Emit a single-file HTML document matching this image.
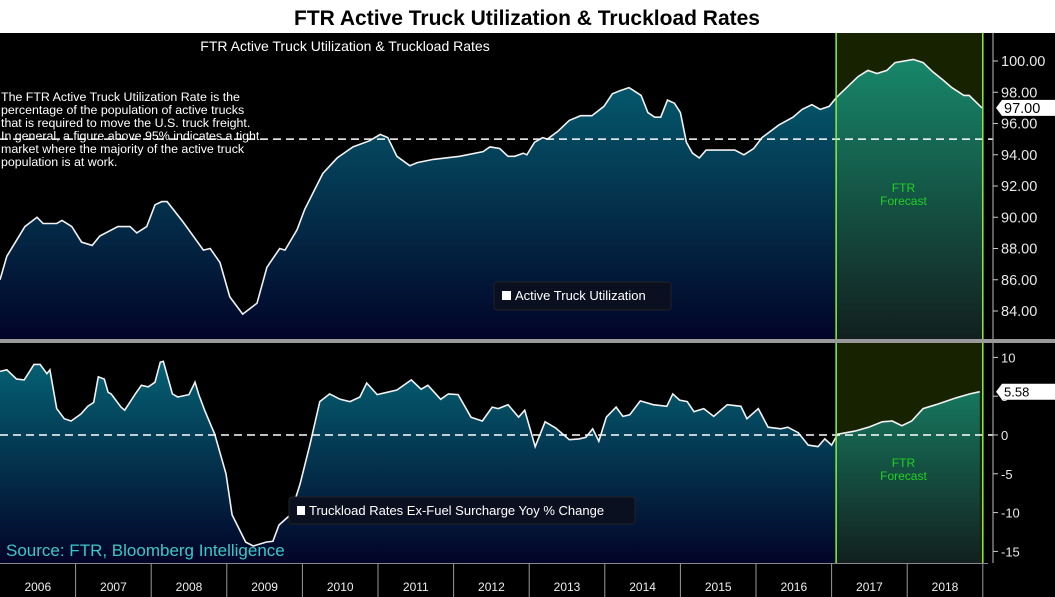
<!DOCTYPE html>
<html><head><meta charset="utf-8"><style>
html,body{margin:0;padding:0;background:#000;width:1055px;height:597px;overflow:hidden}
svg{display:block;font-family:"Liberation Sans",sans-serif}
</style></head><body>
<svg id="c" width="1055" height="597">
<defs>
<linearGradient id="gb1" x1="0" y1="0" x2="0" y2="1"><stop offset="0" stop-color="#056173"/><stop offset="1" stop-color="#020428"/></linearGradient>
<linearGradient id="gg1" x1="0" y1="0" x2="0" y2="1"><stop offset="0" stop-color="#17876a"/><stop offset="1" stop-color="#12201f"/></linearGradient>
<clipPath id="hist"><rect x="0" y="0" width="836" height="597"/></clipPath>
<clipPath id="fc"><rect x="836" y="0" width="150" height="597"/></clipPath>
</defs>
<rect x="0" y="0" width="1055" height="33" fill="#fff"/>
<text x="527" y="25" text-anchor="middle" font-size="21" font-weight="bold" fill="#000">FTR Active Truck Utilization &amp; Truckload Rates</text>
<rect x="0" y="339" width="1055" height="4" fill="#9a9a9a"/>
<g id="gtop"></g>
<g id="gbot"></g>
<g id="xa"></g>
</svg>
<script>
const utilDates=[2006.0,2006.09,2006.33,2006.49,2006.57,2006.75,2006.82,2006.95,2007.08,2007.22,2007.32,2007.56,2007.72,2007.81,2007.94,2008.05,2008.14,2008.21,2008.42,2008.69,2008.78,2008.91,2009.04,2009.21,2009.40,2009.53,2009.70,2009.77,2009.93,2010.03,2010.27,2010.46,2010.67,2010.89,2011.03,2011.13,2011.25,2011.42,2011.52,2011.73,2012.08,2012.39,2012.48,2012.61,2012.72,2012.81,2012.92,2012.97,2013.07,2013.18,2013.24,2013.38,2013.53,2013.68,2013.83,2013.99,2014.10,2014.20,2014.32,2014.48,2014.57,2014.66,2014.74,2014.83,2014.92,2015.00,2015.08,2015.16,2015.25,2015.34,2015.72,2015.84,2015.97,2016.08,2016.30,2016.49,2016.61,2016.74,2016.85,2016.97,2017.07,2017.35,2017.48,2017.60,2017.73,2017.84,2018.08,2018.21,2018.34,2018.47,2018.59,2018.75,2018.82,2018.99];
const utilValues=[86.0,87.5,89.4,90.0,89.6,89.6,89.8,89.4,88.4,88.2,88.8,89.4,89.4,89.0,89.4,90.8,91.0,91.0,89.7,87.9,88.0,87.1,84.9,83.8,84.5,86.8,88.0,87.9,89.2,90.5,92.8,93.8,94.5,94.9,95.3,95.1,93.9,93.3,93.5,93.7,93.9,94.2,94.5,94.4,93.9,93.9,94.1,94.0,94.8,95.1,95.0,95.5,96.2,96.5,96.5,97.1,97.9,98.1,98.3,97.8,96.7,96.4,96.4,97.5,97.3,96.7,94.8,94.1,93.8,94.3,94.3,94.0,94.4,95.1,95.9,96.4,96.9,97.2,96.9,97.1,97.7,99.0,99.4,99.2,99.4,99.9,100.1,99.9,99.3,98.8,98.3,97.8,97.8,97.0];
const rateDates=[2006.0,2006.09,2006.22,2006.32,2006.45,2006.53,2006.62,2006.66,2006.75,2006.85,2006.94,2007.07,2007.16,2007.24,2007.30,2007.38,2007.43,2007.47,2007.60,2007.65,2007.79,2007.87,2007.96,2008.05,2008.12,2008.16,2008.28,2008.35,2008.50,2008.58,2008.63,2008.71,2008.84,2008.99,2009.07,2009.25,2009.35,2009.52,2009.61,2009.69,2009.84,2009.97,2010.10,2010.23,2010.36,2010.50,2010.63,2010.76,2010.85,2010.99,2011.12,2011.25,2011.44,2011.57,2011.66,2011.83,2011.93,2012.06,2012.23,2012.38,2012.51,2012.59,2012.72,2012.86,2012.94,2013.08,2013.21,2013.35,2013.53,2013.66,2013.75,2013.84,2013.92,2014.02,2014.15,2014.24,2014.33,2014.47,2014.64,2014.82,2014.90,2014.99,2015.09,2015.18,2015.31,2015.44,2015.62,2015.80,2015.88,2016.03,2016.16,2016.33,2016.42,2016.56,2016.69,2016.82,2016.91,2017.00,2017.08,2017.31,2017.49,2017.67,2017.80,2017.93,2018.06,2018.21,2018.38,2018.65,2018.83,2018.96];
const rateValues=[8.2,8.4,7.2,7.1,9.1,9.1,7.9,8.4,3.4,2.1,1.8,2.7,3.7,4.2,7.5,7.2,5.5,5.3,3.6,3.2,5.3,6.4,6.2,6.8,9.4,9.5,5.3,4.9,5.2,6.8,5.2,3.1,0.1,-5.0,-10.3,-13.8,-14.3,-13.8,-13.7,-11.6,-10.3,-6.3,-1.2,4.3,5.3,4.6,4.3,4.9,6.7,5.2,5.5,5.8,7.1,5.9,6.4,4.6,5.3,5.2,2.3,1.8,3.6,3.4,3.9,2.3,3.2,-1.5,1.7,0.9,-0.6,-0.5,-0.3,0.8,-0.8,2.3,3.6,2.4,2.6,4.4,3.9,3.7,5.3,4.5,4.3,3.0,3.4,2.4,3.9,3.7,2.1,3.4,1.0,0.8,1.0,0.3,-1.3,-1.5,-0.5,-1.3,0.1,0.5,1.0,1.7,1.8,1.2,1.8,3.4,3.9,4.8,5.3,5.58];
const years=[2006,2007,2008,2009,2010,2011,2012,2013,2014,2015,2016,2017,2018];
const utilTicks=[84,86,88,90,92,94,96,98,100];
const rateTicks=[10,5,0,-5,-10,-15];
const utilThreshold=95, rateThreshold=0, forecastStart=2017.06, forecastEnd=2019.0;
const utilLast=97.00, rateLast=5.58;

const NS='http://www.w3.org/2000/svg';
function mk(p,t,a){const e=document.createElementNS(NS,t);for(const k in a)e.setAttribute(k,a[k]);p.appendChild(e);return e;}
const X=t=>(t-2006)*75.6;
const Yu=v=>61+(100-v)*15.625;
const Yr=v=>435-v*7.76;
const axX=993;

function panel(g,yTop,yBot,dates,vals,Y,ticks,fmt,thr,last,lastFmt,pre,fs){
  const fx0=X(forecastStart),fx1=X(forecastEnd);
  const bg=mk(g,'rect',{x:fx0,y:yTop,width:fx1-fx0,height:yBot-yTop,fill:'#172300'});
  
  
  let d='M'+X(dates[0])+','+yBot;
  dates.forEach((t,i)=>d+=' L'+X(t).toFixed(1)+','+Y(vals[i]).toFixed(1));
  d+=' L'+X(dates[dates.length-1]).toFixed(1)+','+yBot+' Z';
  const ah=mk(g,'path',{d:d,fill:'url(#gb1)','clip-path':'url(#hist)'});
  
  
  const af=mk(g,'path',{d:d,fill:'url(#gg1)','clip-path':'url(#fc)'});
  
  
  const ln=dates.map((t,i)=>(i?'L':'M')+X(t).toFixed(1)+','+Y(vals[i]).toFixed(1)).join(' ');
  const l=mk(g,'path',{d:ln,fill:'none',stroke:'#f2f2f2','stroke-width':1.6});
  
  
  const th=mk(g,'line',{x1:0,x2:axX,y1:Y(thr),y2:Y(thr),stroke:'#fff','stroke-width':1.5,'stroke-dasharray':'8,5'});
  
  
  [fx0,fx1].forEach(x=>{const v=mk(g,'line',{x1:x,x2:x,y1:yTop,y2:yBot,stroke:'#8cf03c','stroke-width':1.5});
    
    });
  mk(g,'line',{x1:axX,x2:axX,y1:yTop,y2:yBot,stroke:'#bbb','stroke-width':1});
  ticks.forEach(v=>{const y=Y(v);
    mk(g,'line',{x1:axX,x2:axX+5,y1:y,y2:y,stroke:'#ccc'});
    const tx=mk(g,'text',{x:axX+8,y:y+5,fill:'#e8e8e8','font-size':fs});
    tx.textContent=fmt(v);
    
    });
  const ly=Y(last);
  const lb=mk(g,'path',{d:`M${axX+3},${ly} L${axX+9},${ly-8} H1055 V${ly+8} H${axX+9} Z`,fill:'#fff'});
  
  
  const lt=mk(g,'text',{x:axX+11,y:ly+5,fill:'#000','font-size':fs});
  lt.textContent=lastFmt(last);
  
  
}
const gTop=document.getElementById('gtop'),gBot=document.getElementById('gbot'),xa=document.getElementById('xa');
panel(gTop,33,339,utilDates,utilValues,Yu,utilTicks,v=>v.toFixed(2),utilThreshold,utilLast,v=>v.toFixed(2),'util',14.5);
panel(gBot,343,563,rateDates,rateValues,Yr,rateTicks,v=>String(v),rateThreshold,rateLast,v=>v.toFixed(2),'rate',13);

function txt(g,x,y,s,attrs,name){const t=mk(g,'text',Object.assign({x:x,y:y},attrs));t.textContent=s;
  
  return t;}
txt(gTop,345,51,'FTR Active Truck Utilization & Truckload Rates',{'text-anchor':'middle',fill:'#fff','font-size':14},'panel-title');
['The FTR Active Truck Utilization Rate is the','percentage of the population of active trucks','that is required to move the U.S. truck freight.','In general, a figure above 95% indicates a tight','market where the majority of the active truck','population is at work.'].forEach((s,i)=>txt(gTop,1,101+i*13,s,{fill:'#fff','font-size':12.4},'description-line'));
const fxm=(X(forecastStart)+X(forecastEnd))/2;
txt(gTop,fxm-6,192,'FTR',{'text-anchor':'middle',fill:'#22d022','font-size':12},'forecast-label');
txt(gTop,fxm-6,205,'Forecast',{'text-anchor':'middle',fill:'#22d022','font-size':12},'forecast-label');
txt(gBot,fxm-6,467,'FTR',{'text-anchor':'middle',fill:'#22d022','font-size':12},'forecast-label');
txt(gBot,fxm-6,480,'Forecast',{'text-anchor':'middle',fill:'#22d022','font-size':12},'forecast-label');
let lg=mk(gTop,'rect',{x:494,y:282,width:177,height:28,rx:3,fill:'#0b1020',stroke:'#222'});


mk(gTop,'rect',{x:502,y:291,width:9,height:9,fill:'#fff'});
txt(gTop,515,300,'Active Truck Utilization',{fill:'#fff','font-size':13},'util-legend-label');
lg=mk(gBot,'rect',{x:289,y:497,width:346,height:27,rx:3,fill:'#0b1020',stroke:'#222'});


mk(gBot,'rect',{x:297,y:506,width:8,height:9,fill:'#fff'});
txt(gBot,309,515,'Truckload Rates Ex-Fuel Surcharge Yoy % Change',{fill:'#fff','font-size':13},'rate-legend-label');
txt(gBot,6,556,'Source: FTR, Bloomberg Intelligence',{fill:'#3cc8c8','font-size':17},'source-note');
mk(xa,'rect',{x:0,y:563,width:1055,height:34,fill:'#000'});
mk(xa,'line',{x1:0,x2:988,y1:563.5,y2:563.5,stroke:'#888'});
years.forEach((yr,i)=>{
  const x0=X(yr),x1=X(yr+1);
  mk(xa,'line',{x1:x1,x2:x1,y1:563,y2:597,stroke:'#999'});
  txt(xa,(x0+x1)/2,591,String(yr),{'text-anchor':'middle',fill:'#eee','font-size':12},'x-tick-label');
});
</script>
</body></html>
